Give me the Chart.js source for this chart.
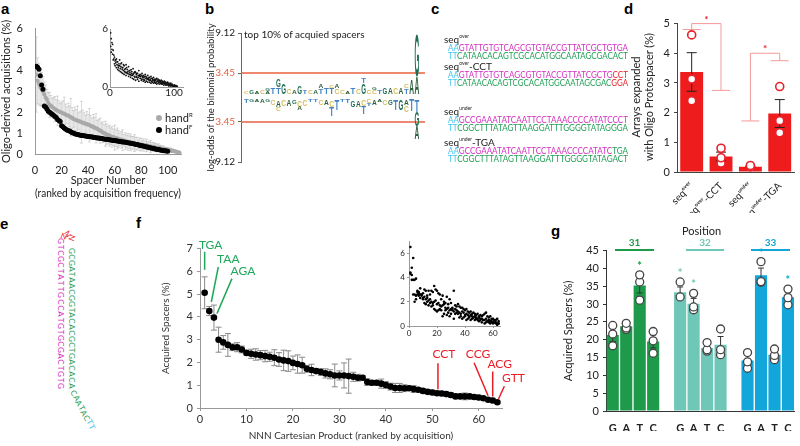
<!DOCTYPE html>
<html>
<head>
<meta charset="utf-8">
<script src="https://cdn.jsdelivr.net/npm/chart.js@4.4.1/dist/chart.umd.min.js"></script>
<style>
  body { margin: 0; width: 800px; height: 446px; background: #fff; position: relative; overflow: hidden; font-family: Lato, sans-serif; color: #222; }
  .box { position: absolute; }
  .panel { position: absolute; font: bold 15px "Liberation Sans", Arial, sans-serif; color: #000; }
  .t { position: absolute; white-space: nowrap; }
  .seq { position: absolute; white-space: nowrap; font: 8.5px Lato, sans-serif; line-height: 8px; transform-origin: 0 50%; }
  .name { position: absolute; white-space: nowrap; font: 10px Lato, sans-serif; }
  .name sup { font-size: 5px; vertical-align: 5px; }
  .cy { color: #41c4ee; } .mg { color: #d42fc0; } .gr { color: #1f9e55; } .rd { color: #ec1c24; }
  .vl { position: absolute; font: 8px Lato, sans-serif; width: 8px; height: 8px; text-align: center; line-height: 8px; }
  .rot { position: absolute; white-space: nowrap; transform: translate(-50%, -50%) rotate(-90deg); font-size: 11px; }
</style>
</head>
<body>

<div class="panel" style="left:1px;top:0px">a</div>
<div class="panel" style="left:205px;top:0px">b</div>
<div class="panel" style="left:431px;top:0px">c</div>
<div class="panel" style="left:624px;top:0px">d</div>
<div class="panel" style="left:0px;top:215px">e</div>
<div class="panel" style="left:136px;top:214px">f</div>
<div class="panel" style="left:551px;top:222px">g</div>

<div class="box" style="left:0;top:18px"><canvas id="chartA" width="190" height="182"></canvas></div>
<div class="box" style="left:98px;top:20px"><canvas id="chartAInset" width="90" height="84"></canvas></div>
<div class="t" style="left:156px;top:111px;font-size:11px;color:#999"><span style="display:inline-block;width:6px;height:6px;border-radius:3px;background:#aaa;margin-right:3px;vertical-align:1px"></span><span style="color:#222">hand<sup style="font-size:6px">R</sup></span></div>
<div class="t" style="left:156px;top:123px;font-size:11px"><span style="display:inline-block;width:6px;height:6px;border-radius:3px;background:#000;margin-right:3px;vertical-align:1px"></span>hand<sup style="font-size:6px">F</sup></div>

<div class="box" style="left:205px;top:23px"><canvas id="chartB" width="225" height="150"></canvas></div>
<div class="t" style="left:244px;top:28px;font-size:10px">top 10% of acquied spacers</div>

<div id="panelC"></div>

<div class="box" style="left:618px;top:13px"><canvas id="chartD" width="182" height="200"></canvas></div>
<div class="rot" style="left:635px;top:97px">Arrays expanded</div>
<div class="rot" style="left:648px;top:97px">with Oligo Protospacer (%)</div>

<div id="panelE"></div>

<div class="box" style="left:140px;top:238px"><canvas id="chartF" width="385" height="208"></canvas></div>
<div class="box" style="left:394px;top:234px"><canvas id="chartFInset" width="110" height="106"></canvas></div>

<div class="t" style="left:682px;top:224px;font-size:11px">Position</div>
<div id="posHead"></div>
<div class="box" style="left:562px;top:240px"><canvas id="chartG" width="238" height="191"></canvas></div>

<script>
// ---------- panel a ----------
const handR = [3.8, 3.5, 3.35, 3.2, 3.1, 3.0, 2.85, 2.7, 2.6, 2.45,
  2.35, 2.3, 2.25, 2.2, 2.15, 2.1, 2.07, 2.04, 2.01, 1.98,
  1.95, 1.92, 1.89, 1.86, 1.83, 1.8, 1.76, 1.72, 1.68, 1.65,
  1.62, 1.6, 1.57, 1.55, 1.52, 1.5, 1.47, 1.45, 1.43, 1.41,
  1.38, 1.35, 1.32, 1.29, 1.26, 1.23, 1.2, 1.16, 1.12, 1.08,
  1.04, 1.0, 0.97, 0.94, 0.91, 0.88, 0.85, 0.82, 0.8, 0.78,
  0.76, 0.74, 0.72, 0.7, 0.68, 0.66, 0.64, 0.62, 0.6, 0.58,
  0.57, 0.56, 0.54, 0.53, 0.52, 0.5, 0.49, 0.47, 0.46, 0.45,
  0.44, 0.43, 0.42, 0.41, 0.39, 0.38, 0.36, 0.35, 0.34, 0.32,
  0.31, 0.3, 0.29, 0.27, 0.26, 0.25, 0.24, 0.22, 0.21, 0.2,
  0.19, 0.18, 0.16, 0.15, 0.13, 0.12, 0.1, 0.08, 0.06, 0.04];
const handRErr = [1.8, 1.1, 1.0, 0.9, 0.8, 0.7, 0.6, 0.6, 0.5, 0.5,
  0.6, 0.5, 0.4, 0.5, 0.6, 0.5, 0.7, 0.5, 0.4, 0.5,
  0.6, 0.8, 0.5, 0.4, 0.6, 0.5, 0.9, 0.5, 0.4, 0.6,
  0.5, 0.7, 0.4, 0.5, 1.0, 0.6, 0.5, 0.4, 0.6, 0.5,
  0.8, 0.5, 0.4, 0.6, 0.5, 0.7, 0.4, 0.5, 0.6, 0.4,
  0.5, 0.4, 0.6, 0.5, 0.4, 0.5, 0.4, 0.5, 0.4, 0.6,
  0.4, 0.5, 0.4, 0.3, 0.4, 0.5, 0.3, 0.4, 0.3, 0.4,
  0.3, 0.4, 0.3, 0.3, 0.4, 0.3, 0.3, 0.2, 0.3, 0.3,
  0.2, 0.3, 0.2, 0.3, 0.2, 0.2, 0.3, 0.2, 0.2, 0.2,
  0.2, 0.15, 0.2, 0.15, 0.15, 0.1, 0.15, 0.1, 0.1, 0.1,
  0.1, 0.1, 0.08, 0.08, 0.06, 0.06, 0.05, 0.05, 0.04, 0.04];
const handF = [4.2, 4.15, 4.05, 3.75, 3.3, 3.1, 2.3, 2.25, 2.15, 2.05,
  2.0, 1.95, 1.9, 1.85, 1.8, 1.75, 1.65, 1.6, 1.55, 1.35,
  1.3, 1.25, 1.2, 1.15, 1.12, 1.1, 1.06, 1.02, 1.0, 0.97,
  0.95, 0.93, 0.92, 0.9, 0.89, 0.88, 0.87, 0.86, 0.85, 0.84,
  0.83, 0.82, 0.81, 0.8, 0.79, 0.78, 0.77, 0.76, 0.75, 0.74,
  0.73, 0.72, 0.71, 0.7, 0.69, 0.68, 0.67, 0.66, 0.65, 0.64,
  0.63, 0.62, 0.61, 0.6, 0.59, 0.58, 0.57, 0.56, 0.55, 0.54,
  0.53, 0.52, 0.5, 0.49, 0.48, 0.46, 0.45, 0.43, 0.42, 0.4,
  0.39, 0.37, 0.36, 0.34, 0.33, 0.31, 0.3, 0.28, 0.27, 0.25,
  0.24, 0.22, 0.21, 0.2, 0.18, 0.17, 0.16, 0.15, 0.14, 0.13];
const aTicksX = [0, 20, 40, 60, 80, 100];
// inset a: individual replicate values
const aRepA = [5.6, 5.0, 4.6, 3.4, 3.8, 2.9, 3.1, 2.7, 2.5, 2.9,
  2.3, 2.6, 2.2, 2.4, 2.8, 1.9, 2.1, 2.5, 1.8, 2.0,
  1.7, 2.2, 1.6, 1.9, 2.3, 1.5, 1.8, 1.4, 2.1, 1.7,
  1.5, 1.3, 1.8, 1.6, 1.2, 1.9, 1.4, 1.1, 1.6, 1.5,
  1.3, 1.0, 1.4, 1.2, 1.7, 1.1, 1.3, 0.9, 1.2, 1.4,
  1.0, 1.2, 0.8, 1.1, 1.3, 0.9, 1.0, 0.8, 1.2, 0.9,
  0.7, 1.0, 0.8, 1.1, 0.6, 0.9, 0.7, 1.0, 0.6, 0.8,
  0.7, 0.5, 0.9, 0.6, 0.8, 0.5, 0.7, 0.6, 0.4, 0.7,
  0.5, 0.6, 0.4, 0.5, 0.6, 0.3, 0.5, 0.4, 0.3, 0.5,
  0.3, 0.4, 0.2, 0.3, 0.4, 0.2, 0.3, 0.2, 0.1, 0.2,
  0.2, 0.1, 0.15, 0.1, 0.05];
const aRepB = [4.2, 3.6, 3.9, 4.4, 2.8, 3.3, 2.4, 2.2, 2.8, 2.0,
  2.6, 1.8, 2.0, 1.7, 2.2, 1.6, 2.4, 1.5, 2.0, 1.4,
  2.3, 1.3, 1.8, 1.5, 1.2, 2.0, 1.4, 1.6, 1.1, 1.3,
  1.7, 1.0, 1.2, 1.4, 0.9, 1.3, 0.8, 1.5, 1.0, 0.7,
  1.1, 1.4, 0.8, 1.0, 0.6, 1.2, 0.9, 1.1, 0.7, 0.8,
  1.1, 0.6, 1.0, 0.7, 0.5, 1.1, 0.6, 0.9, 0.5, 0.8,
  1.0, 0.5, 0.7, 0.4, 0.9, 0.5, 0.8, 0.4, 0.7, 0.5,
  0.4, 0.8, 0.3, 0.6, 0.4, 0.7, 0.3, 0.5, 0.6, 0.3,
  0.4, 0.3, 0.5, 0.2, 0.4, 0.3, 0.2, 0.4, 0.2, 0.3,
  0.2, 0.1, 0.3, 0.2, 0.1, 0.2, 0.1, 0.15, 0.1, 0.05,
  0.1, 0.05, 0.1, 0.05, 0.02];
const aInsetTicksX = [0, 100];
const aInsetTicksY = [0, 6];

// ---------- panel b (sequence logo) ----------
const bTicks = [9.12, 3.45, -3.45, -9.12];
const bThreshold = 3.45;
// columns, letters listed from baseline outward, [letter, height]
const logoTop = [
  [['C', 0.4]], [['G', 0.5]], [['A', 0.4]], [['C', 0.5]], [['A', 0.4], ['G', 0.3]],
  [['T', 0.9]], [['T', 1.0], ['G', 1.2]], [['G', 1.4]], [['C', 0.8]], [['A', 0.6]],
  [['G', 1.2]], [['T', 0.6]], [['C', 0.5]], [['A', 0.5]], [['T', 0.8], ['A', 0.5]],
  [['T', 0.9]], [['T', 0.9], ['C', 0.4]], [['C', 0.8], ['A', 0.6]], [['C', 0.5]], [['A', 0.4]],
  [['T', 1.0]], [['C', 0.8]], [['G', 1.5], ['T', 0.8]], [['C', 0.5]], [['C', 0.5], ['G', 0.4]],
  [['T', 0.5]], [['G', 0.9]], [['A', 0.9]], [['C', 0.9]], [['A', 1.0]],
  [['T', 0.8], ['C', 0.6]], [['A', 2.0]], [['A', 2.5], ['G', 6.0]]
];
const logoBottom = [
  [['T', 0.5]], [['G', 0.3]], [['A', 0.3]], [['A', 0.5]], [['G', 0.3]],
  [['C', 0.8]], [['A', 1.0], ['C', 0.6]], [['C', 0.9]], [['A', 0.9]], [['G', 0.6]],
  [['C', 1.0], ['A', 0.5]], [['C', 0.9]], [['T', 0.3]], [['T', 0.3]], [['C', 0.8]],
  [['A', 0.8]], [['C', 1.0], ['T', 1.3]], [['T', 1.5]], [['T', 0.3]], [['T', 0.5]],
  [['G', 1.0]], [['A', 1.0]], [['C', 0.9], ['T', 1.2]], [['C', 0.5], ['T', 0.4]], [['A', 0.8]],
  [['A', 0.4]], [['C', 0.8]], [['G', 0.8]], [['T', 1.4]], [['G', 1.4]],
  [['A', 0.8], ['C', 1.0]], [['T', 1.6]], [['T', 1.7], ['G', 2.1], ['A', 1.8]]
];
const logoColors = { A: '#2c5f3c', C: '#d6bd5c', G: '#1f6e52', T: '#4383c4' };

// ---------- panel d ----------
const dLabels = ['seqᵒᵛᵉʳ', 'seqᵒᵛᵉʳ-CCT', 'seqᵘⁿᵈᵉʳ', 'seqᵘⁿᵈᵉʳ-TGA'];
const dMeans = [3.37, 0.52, 0.18, 1.97];
const dErr = [0.65, 0.15, 0.02, 0.47];
const dRep1 = [4.62, 0.80, 0.22, 2.88];
const dRep2 = [3.13, 0.48, 0.18, 1.73];
const dRep3 = [2.40, 0.30, null, 1.32];
// significance brackets: [left bar, right bar, top, left end, right end]
const dBrackets = [[0, 1, 5.0, 4.8, 2.75], [2, 3, 4.0, 1.72, 3.75]];

// ---------- panel f ----------
const fMean = [5.06, 4.26, 3.97, 3.0, 2.88, 2.77, 2.67, 2.67, 2.57, 2.42,
  2.38, 2.35, 2.32, 2.28, 2.25, 2.21, 2.13, 2.09, 2.06, 1.98,
  1.93, 1.88, 1.72, 1.67, 1.62, 1.58, 1.52, 1.48, 1.43, 1.43,
  1.43, 1.40, 1.37, 1.33, 1.33, 1.14, 1.11, 1.11, 1.07, 1.01,
  0.94, 0.88, 0.88, 0.87, 0.87, 0.83, 0.80, 0.75, 0.71, 0.68,
  0.65, 0.64, 0.61, 0.57, 0.51, 0.51, 0.51, 0.51, 0.48, 0.46,
  0.43, 0.36, 0.33, 0.25];
const fErr = [0.7, 0.2, 0.55, 0.55, 0.3, 0.5, 0.15, 0.2, 0.15, 0.1,
  0.2, 0.25, 0.2, 0.25, 0.2, 0.35, 0.3, 0.45, 0.45, 0.3,
  0.4, 0.35, 0.15, 0.25, 0.1, 0.15, 0.2, 0.2, 0.5, 0.2,
  0.55, 0.75, 0.2, 0.15, 0.1, 0.15, 0.1, 0.1, 0.2, 0.15,
  0.15, 0.2, 0.2, 0.15, 0.1, 0.15, 0.1, 0.1, 0.1, 0.1,
  0.1, 0.1, 0.1, 0.1, 0.1, 0.1, 0.15, 0.1, 0.1, 0.1,
  0.05, 0.05, 0.1, 0.05];
const fRep1 = [6.5, 4.8, 5.6, 3.8, 3.9, 2.9, 2.8, 3.1, 2.6, 2.7, 3.0, 2.9, 2.5, 2.9, 2.6, 2.9, 2.8, 3.3, 3.0, 2.9, 2.7, 2.6, 2.2, 2.5, 2.0, 1.9, 2.4, 1.8, 2.2, 1.9, 1.5, 2.9, 1.7, 1.6, 1.8, 1.6, 1.5, 1.5, 1.4, 1.3, 1.4, 1.2, 1.1, 1.2, 1.0, 1.1, 1.0, 0.9, 1.0, 0.8, 0.9, 0.8, 0.9, 1.0, 1.1, 0.8, 0.7, 0.8, 0.6, 0.6, 0.5, 0.5, 0.6, 0.4];
const fRep2 = [4.4, 4.2, 3.8, 2.6, 2.5, 2.8, 2.7, 2.6, 2.5, 2.3, 2.4, 2.2, 2.3, 2.1, 2.2, 2.0, 1.9, 2.0, 2.1, 1.8, 1.9, 1.7, 1.6, 1.7, 1.8, 1.5, 1.4, 1.5, 1.3, 1.4, 1.3, 1.2, 1.4, 1.3, 1.2, 1.1, 1.0, 1.2, 1.1, 0.9, 1.0, 0.9, 0.8, 0.9, 0.8, 0.7, 0.8, 0.7, 0.6, 0.7, 0.6, 0.6, 0.5, 0.5, 0.6, 0.4, 0.5, 0.4, 0.5, 0.3, 0.4, 0.3, 0.2, 0.2];
const fRep3 = [4.3, 3.8, 2.6, 2.0, 2.2, 2.6, 2.5, 2.3, 2.6, 2.2, 1.9, 1.8, 2.0, 1.7, 1.9, 1.6, 1.7, 1.4, 1.3, 1.2, 1.3, 1.4, 1.3, 0.8, 1.0, 1.3, 0.9, 1.1, 0.8, 1.0, 1.4, 0.6, 1.0, 1.1, 1.0, 0.7, 0.8, 0.6, 0.7, 0.8, 0.5, 0.6, 0.7, 0.5, 0.6, 0.7, 0.5, 0.6, 0.5, 0.4, 0.5, 0.3, 0.5, 0.2, 0.3, 0.4, 0.3, 0.2, 0.3, 0.2, 0.3, 0.2, 0.1, 0.2];
const fTicksX = [0, 10, 20, 30, 40, 50, 60];
const fInsetTicksX = [0, 20, 40, 60];
const fGood = ['TGA', 'TAA', 'AGA'];
const fBad = ['CCT', 'CCG', 'ACG', 'GTT'];
const fGoodRank = [1, 2, 3];
const fBadRank = [51, 62, 63, 64];

// ---------- panel g ----------
const bases = ['G', 'A', 'T', 'C'];
const positions = ['31', '32', '33'];
const gMean = [[21.3, 23.8, 35.2, 19.5], [33.3, 30.1, 17.7, 18.6], [14.2, 38.1, 15.8, 31.9]];
const gErr = [[1.8, 0.7, 2.1, 1.8], [1.5, 1.5, 0.5, 2.3], [1.5, 2.0, 1.0, 0.8]];
const gRep1 = [[24.0, 24.6, 38.2, 22.3], [36.2, 33.0, 19.2, 23.0], [16.4, 41.9, 17.4, 34.2]];
const gRep2 = [[21.6, 23.3, 36.2, 19.7], [32.0, 29.2, 17.2, 17.2], [13.8, 36.3, 15.6, 31.8]];
const gRep3 = [[18.3, 22.9, 31.1, 16.2], [null, 28.4, 16.8, 15.8], [12.0, 36.1, 14.4, 29.8]];
const gSig = [[0, 0, 1, 0], [1, 1, 0, 0], [0, 1, 0, 1]];
const posColors = ['#1d9a4a', '#6ec7b7', '#12a6da'];

// ---------- shared helpers ----------
Chart.defaults.font.family = 'Lato, sans-serif';
Chart.defaults.color = '#222';
Chart.defaults.animation = false;
Chart.defaults.plugins.legend.display = false;
Chart.defaults.plugins.tooltip.enabled = false;

function fixW(w) { return s => { s.width = w; }; }
function fixH(h) { return s => { s.height = h; }; }
function setTicks(list) { return s => { s.ticks = list.map(v => ({ value: v })); }; }

function drawErrors(chart, index, meta, phase) {
  const ds = chart.data.datasets[index];
  if (!ds.errors || (ds.errorPhase || 'before') !== phase) return;
  const ys = chart.scales[meta.yAxisID];
  const ctx = chart.ctx;
  ctx.save();
  ctx.strokeStyle = ds.errorColor || '#000';
  ctx.lineWidth = ds.errorWidth || 1;
  meta.data.forEach((el, i) => {
    const d = ds.data[i];
    const v = d && typeof d === 'object' ? d.y : d;
    const e = ds.errors[i];
    if (v == null || e == null) return;
    const cap = ds.errorCap || 2;
    const top = ys.getPixelForValue(v + e);
    const lowV = Math.max(v - e, ys.min);
    const bot = ys.getPixelForValue(lowV);
    ctx.beginPath();
    ctx.moveTo(el.x, top); ctx.lineTo(el.x, bot);
    ctx.moveTo(el.x - cap, top); ctx.lineTo(el.x + cap, top);
    if (lowV > ys.min) { ctx.moveTo(el.x - cap, bot); ctx.lineTo(el.x + cap, bot); }
    ctx.stroke();
  });
  ctx.restore();
}
const errorBars = {
  id: 'errorBars',
  beforeDatasetDraw(chart, args) { drawErrors(chart, args.index, args.meta, 'before'); },
  afterDatasetDraw(chart, args) { drawErrors(chart, args.index, args.meta, 'after'); }
};
const xy = arr => arr.map((v, i) => ({ x: i + 1, y: v }));

// ---------- chart a ----------
new Chart(document.getElementById('chartA'), {
  type: 'scatter',
  data: {
    datasets: [
      { data: xy(handF), pointRadius: 2.5, backgroundColor: '#000', borderWidth: 0, order: 1 },
      { data: xy(handR), pointRadius: 2.1, backgroundColor: '#a9a9a9', borderWidth: 0, order: 2,
        errors: handRErr, errorColor: 'rgba(170,170,170,0.55)', errorWidth: 0.8, errorCap: 1.5, errorPhase: 'before' }
    ]
  },
  options: {
    responsive: false,
    layout: { padding: { top: 10, right: 9 } },
    scales: {
      x: { min: 0, max: 110, afterFit: fixH(46), afterBuildTicks: setTicks(aTicksX),
        ticks: { font: { size: 11 }, padding: 2, maxRotation: 0, autoSkip: false },
        grid: { display: false }, border: { color: '#999' },
        title: { display: true, text: ['Spacer Number', '(ranked by acquisition frequency)'], font: { size: 11 }, padding: 0 } },
      y: { min: 0, max: 6, afterFit: fixW(35),
        ticks: { stepSize: 1, font: { size: 11 }, padding: 4 },
        grid: { display: false }, border: { color: '#999' },
        title: { display: true, text: 'Oligo-derived acquisitions (%)', font: { size: 11 }, padding: 0 } }
    }
  },
  plugins: [errorBars]
});

new Chart(document.getElementById('chartAInset'), {
  type: 'scatter',
  data: {
    datasets: [
      { data: xy(aRepA), pointRadius: 0.9, backgroundColor: '#111', borderWidth: 0 },
      { data: xy(aRepB), pointRadius: 0.9, backgroundColor: '#111', borderWidth: 0 }
    ]
  },
  options: {
    responsive: false,
    layout: { padding: { top: 9, right: 5 } },
    scales: {
      x: { min: 0, max: 114, afterFit: fixH(17), afterBuildTicks: setTicks(aInsetTicksX),
        ticks: { font: { size: 10 }, padding: 0, maxRotation: 0, autoSkip: false },
        grid: { display: false, drawTicks: false }, border: { color: '#999' } },
      y: { min: 0, max: 6, afterFit: fixW(12), afterBuildTicks: setTicks(aInsetTicksY),
        ticks: { font: { size: 10 }, padding: 2, autoSkip: false },
        grid: { display: false, drawTicks: false }, border: { color: '#999' } }
    }
  }
});

// ---------- chart b ----------
const logoPlugin = {
  id: 'logo',
  afterDatasetsDraw(chart) {
    const ctx = chart.ctx, xs = chart.scales.x, ys = chart.scales.y;
    const colW = xs.getPixelForValue(1) - xs.getPixelForValue(0);
    ctx.save();
    ctx.font = 'bold 20px "Liberation Sans", Arial, sans-serif';
    ctx.textBaseline = 'alphabetic';
    const capH = 14.4;
    const drawLetter = (ch, cx, yTop, yBot) => {
      const w = ctx.measureText(ch).width;
      ctx.save();
      ctx.translate(cx, yBot);
      ctx.scale(colW * 0.9 / w, (yBot - yTop) / capH);
      ctx.fillStyle = logoColors[ch];
      ctx.fillText(ch, -w / 2, 0);
      ctx.restore();
    };
    logoTop.forEach((col, i) => {
      let base = 0.5;
      const cx = xs.getPixelForValue(i + 1);
      col.forEach(([ch, h]) => {
        drawLetter(ch, cx, ys.getPixelForValue(base + h), ys.getPixelForValue(base));
        base += h;
      });
    });
    logoBottom.forEach((col, i) => {
      let base = -0.3;
      const cx = xs.getPixelForValue(i + 1);
      col.forEach(([ch, h]) => {
        drawLetter(ch, cx, ys.getPixelForValue(base), ys.getPixelForValue(base - h));
        base -= h;
      });
    });
    ctx.restore();
  }
};
new Chart(document.getElementById('chartB'), {
  type: 'scatter',
  data: {
    datasets: [
      { data: [{ x: 0, y: bThreshold }, { x: 34.5, y: bThreshold }], showLine: true, borderColor: '#e8603f', borderWidth: 1.5, pointRadius: 0 },
      { data: [{ x: 0, y: -bThreshold }, { x: 34.5, y: -bThreshold }], showLine: true, borderColor: '#e8603f', borderWidth: 1.5, pointRadius: 0 }
    ]
  },
  options: {
    responsive: false,
    layout: { padding: { top: 10, right: 5, bottom: 11 } },
    scales: {
      x: { display: false, min: 0, max: 34.5 },
      y: { min: -9.12, max: 9.12, afterFit: fixW(36), afterBuildTicks: setTicks(bTicks),
        ticks: { font: { size: 10 }, padding: 3, autoSkip: false,
          callback: v => Math.abs(v).toFixed(2),
          color: c => Math.abs(c.tick.value) === bThreshold ? '#e8603f' : '#222' },
        grid: { drawOnChartArea: false, tickLength: 3, color: '#666' }, border: { color: '#666' },
        title: { display: true, text: 'log-odds of the binomial probability', font: { size: 9.5 }, padding: 0 } }
    }
  },
  plugins: [logoPlugin]
});

// ---------- panel c (sequences) ----------
const seqBlocks = [
  { name: 'seq', sup: 'over', suffix: '', top: 35,
    l1: [['cy', 'AA'], ['mg', 'GTATTGTGTCAGCGTGTACCGTTATCGCTGTGA']],
    l2: [['cy', 'TT'], ['gr', 'CATAACACAGTCGCACATGGCAATAGCGACACT']] },
  { name: 'seq', sup: 'over', suffix: '-CCT', top: 62,
    l1: [['cy', 'AA'], ['mg', 'GTATTGTGTCAGCGTGTACCGTTATCGCTG'], ['rd', 'CCT']],
    l2: [['cy', 'TT'], ['gr', 'CATAACACAGTCGCACATGGCAATAGCGAC'], ['rd', 'GGA']] },
  { name: 'seq', sup: 'under', suffix: '', top: 107,
    l1: [['cy', 'AA'], ['mg', 'GCCGAAATATCAATTCCTAAACCCCATATCCCT']],
    l2: [['cy', 'TT'], ['gr', 'CGGCTTTATAGTTAAGGATTTGGGGTATAGGGA']] },
  { name: 'seq', sup: 'under', suffix: '-TGA', top: 138,
    l1: [['cy', 'AA'], ['mg', 'GCCGAAATATCAATTCCTAAACCCCATATC'], ['gr', 'TGA']],
    l2: [['cy', 'TT'], ['gr', 'CGGCTTTATAGTTAAGGATTTGGGGTATAGACT']] }
];
const panelC = document.getElementById('panelC');
seqBlocks.forEach(b => {
  const span = parts => parts.map(([c, s]) => `<span class="${c}">${s}</span>`).join('');
  panelC.insertAdjacentHTML('beforeend',
    `<div class="name" style="left:444px;top:${b.top - 2}px">${b.name}<sup>${b.sup}</sup>${b.suffix}</div>` +
    `<div class="seq" style="left:448px;top:${b.top + 9}px">${span(b.l1)}</div>` +
    `<div class="seq" style="left:448px;top:${b.top + 17}px">${span(b.l2)}</div>`);
});
// stretch each sequence line to the 180px width it has in the figure
panelC.querySelectorAll('.seq').forEach(el => {
  el.style.transform = `scaleX(${180 / el.getBoundingClientRect().width})`;
});

// ---------- panel e (hairpin) ----------
const hairpinLeft = 'GTCGCTATTGCCATGTGCGACTGTG';
const hairpinRight = 'GCGATAACGGTACACGCTGACACA';
const hairpinTail = 'CAATAC';
const hairpinEnd = 'TT';
const panelE = document.getElementById('panelE');
const putV = (ch, x, y, cls, rot) => panelE.insertAdjacentHTML('beforeend',
  `<div class="vl ${cls}" style="left:${x - 4}px;top:${y - 4}px;transform:rotate(${rot}deg)">${ch}</div>`);
[...hairpinLeft].forEach((ch, i) => putV(ch, 61, 241 + i * 6.05, 'mg', 90));
[...hairpinRight].forEach((ch, i) => putV(ch, 72, 251 + i * 5.85, 'gr', 90));
[...hairpinTail + hairpinEnd].forEach((ch, i) => putV(ch, 74 + i * 2.6, 393 + i * 4.9, i < hairpinTail.length ? 'gr' : 'cy', 62));
putV('N', 64, 236, 'rd', 20);
putV('N', 68, 234, 'rd', 60);
putV('N', 72, 238, 'rd', 110);

// ---------- chart d ----------
const bracketPlugin = {
  id: 'brackets',
  afterDatasetsDraw(chart) {
    const ctx = chart.ctx, xs = chart.scales.x, ys = chart.scales.y;
    ctx.save();
    ctx.strokeStyle = '#f39a9a';
    ctx.fillStyle = '#e8202a';
    ctx.lineWidth = 1;
    dBrackets.forEach(([a, b, top, endA, endB]) => {
      const xa = xs.getPixelForValue(a), xb = xs.getPixelForValue(b);
      const yt = ys.getPixelForValue(top);
      ctx.beginPath();
      ctx.moveTo(xa, ys.getPixelForValue(endA)); ctx.lineTo(xa, yt); ctx.lineTo(xb, yt); ctx.lineTo(xb, ys.getPixelForValue(endB));
      [[xa, endA], [xb, endB]].forEach(([x, v]) => {
        ctx.moveTo(x - 9, ys.getPixelForValue(v)); ctx.lineTo(x + 9, ys.getPixelForValue(v));
      });
      ctx.stroke();
      ctx.font = 'bold 10px Lato, sans-serif';
      ctx.textAlign = 'center';
      ctx.fillText('*', (xa + xb) / 2, yt - 1);
    });
    ctx.restore();
  }
};
const dCircle = arr => ({ type: 'line', data: arr, showLine: false, pointRadius: 4, pointBorderWidth: 1.6,
  pointBorderColor: '#e8202a', pointBackgroundColor: '#fff', order: 1 });
new Chart(document.getElementById('chartD'), {
  type: 'bar',
  data: {
    labels: dLabels,
    datasets: [
      { data: dMeans, backgroundColor: '#ee1c1c', barPercentage: 0.78, categoryPercentage: 1, order: 3,
        errors: dErr, errorColor: '#222', errorCap: 5, errorPhase: 'after' },
      dCircle(dRep1), dCircle(dRep2), dCircle(dRep3)
    ]
  },
  options: {
    responsive: false,
    layout: { padding: { top: 10, right: 5 } },
    scales: {
      x: { afterFit: fixH(41), grid: { display: false }, border: { color: '#444' },
        ticks: { minRotation: 45, maxRotation: 45, font: { size: 10 }, padding: 0 } },
      y: { min: 0, max: 5, afterFit: fixW(59),
        ticks: { stepSize: 1, font: { size: 11 }, padding: 4, color: '#222' },
        grid: { drawOnChartArea: false, tickLength: 3, color: '#444' }, border: { color: '#444' } }
    }
  },
  plugins: [errorBars, bracketPlugin]
});

// ---------- chart f ----------
const calloutStyle = [
  { dx: 6, dy: -48, x1: 0, y1: -41, x2: 0, y2: -23 },
  { dx: 19, dy: -52, x1: 9, y1: -44, x2: 2, y2: -9 },
  { dx: 29, dy: -46, x1: 18, y1: -39, x2: 3, y2: -4 },
  { dx: 7, dy: -39, x1: 1, y1: -30, x2: 1, y2: -4 },
  { dx: -10, dy: -46, x1: -14, y1: -37, x2: 0, y2: -4 },
  { dx: 7, dy: -36, x1: 0, y1: -29, x2: 0, y2: -4 },
  { dx: 16, dy: -24, x1: 7, y1: -16, x2: 1, y2: -3 }
];
const calloutPlugin = {
  id: 'callouts',
  afterDatasetsDraw(chart) {
    const ctx = chart.ctx, xs = chart.scales.x, ys = chart.scales.y;
    const items = fGood.map((t, i) => [t, fGoodRank[i], '#1fa85a'])
      .concat(fBad.map((t, i) => [t, fBadRank[i], '#ec1c24']));
    ctx.save();
    ctx.font = '12px Lato, sans-serif';
    ctx.textAlign = 'center';
    ctx.textBaseline = 'middle';
    ctx.lineWidth = 1.5;
    items.forEach(([text, rank, color], i) => {
      const s = calloutStyle[i];
      const px = xs.getPixelForValue(rank), py = ys.getPixelForValue(fMean[rank - 1]);
      ctx.fillStyle = color; ctx.strokeStyle = color;
      ctx.fillText(text, px + s.dx, py + s.dy);
      ctx.beginPath(); ctx.moveTo(px + s.x1, py + s.y1); ctx.lineTo(px + s.x2, py + s.y2); ctx.stroke();
    });
    ctx.restore();
  }
};
new Chart(document.getElementById('chartF'), {
  type: 'scatter',
  data: {
    datasets: [
      { data: xy(fMean), pointRadius: 3.3, backgroundColor: '#000', borderWidth: 0,
        errors: fErr, errorColor: '#8a8a8a', errorCap: 3, errorPhase: 'before' }
    ]
  },
  options: {
    responsive: false,
    layout: { padding: { top: 10, right: 23 } },
    scales: {
      x: { min: 0, max: 65, afterFit: fixH(38), afterBuildTicks: setTicks(fTicksX),
        ticks: { font: { size: 11 }, padding: 2, maxRotation: 0, color: '#333', autoSkip: false },
        grid: { drawOnChartArea: false, tickLength: 3, color: '#999' }, border: { color: '#999' },
        title: { display: true, text: 'NNN Cartesian Product (ranked by acquisition)', font: { size: 10 }, padding: { top: 3 }, color: '#333' } },
      y: { min: 0, max: 7, afterFit: fixW(60),
        ticks: { stepSize: 1, font: { size: 11 }, padding: 4, color: '#333' },
        grid: { drawOnChartArea: false, tickLength: 3, color: '#999' }, border: { color: '#999' },
        title: { display: true, text: 'Acquired Spacers (%)', font: { size: 10 }, padding: { top: 20, bottom: 0 }, color: '#333' } }
    }
  },
  plugins: [errorBars, calloutPlugin]
});

new Chart(document.getElementById('chartFInset'), {
  type: 'scatter',
  data: {
    datasets: [fRep1, fRep2, fRep3].map(r => ({ data: xy(r), pointRadius: 1.3, backgroundColor: '#000', borderWidth: 0 }))
  },
  options: {
    responsive: false,
    layout: { padding: { top: 7, right: 4 } },
    scales: {
      x: { min: 0, max: 65, afterFit: fixH(14), afterBuildTicks: setTicks(fInsetTicksX),
        ticks: { font: { size: 8 }, padding: 1, maxRotation: 0, autoSkip: false },
        grid: { drawOnChartArea: false, tickLength: 2, color: '#999' }, border: { color: '#999' } },
      y: { min: 0, max: 7, afterFit: fixW(15),
        ticks: { stepSize: 1, font: { size: 8 }, padding: 2 },
        grid: { drawOnChartArea: false, tickLength: 2, color: '#999' }, border: { color: '#999' } }
    }
  }
});

// ---------- chart g ----------
const gLabels = [], gBarData = [], gBarErr = [], gBarColor = [], gR1 = [], gR2 = [], gR3 = [], gStar = [];
positions.forEach((p, pi) => {
  if (pi > 0) {
    gLabels.push(''); gBarData.push(null); gBarErr.push(null); gBarColor.push('#fff');
    gR1.push(null); gR2.push(null); gR3.push(null); gStar.push(null);
  }
  bases.forEach((b, bi) => {
    gLabels.push(b);
    gBarData.push(gMean[pi][bi]);
    gBarErr.push(gErr[pi][bi]);
    gBarColor.push(posColors[pi]);
    gR1.push(gRep1[pi][bi]); gR2.push(gRep2[pi][bi]); gR3.push(gRep3[pi][bi]);
    gStar.push(gSig[pi][bi] ? { color: posColors[pi], v: gRep1[pi][bi] } : null);
  });
});
const starPlugin = {
  id: 'stars',
  afterDatasetsDraw(chart) {
    const ctx = chart.ctx, xs = chart.scales.x, ys = chart.scales.y;
    ctx.save();
    ctx.font = 'bold 11px Lato, sans-serif';
    ctx.textAlign = 'center';
    gStar.forEach((s, i) => {
      if (!s) return;
      ctx.fillStyle = s.color;
      ctx.fillText('*', xs.getPixelForValue(i), ys.getPixelForValue(s.v) - 5);
    });
    ctx.restore();
  }
};
const gCircle = arr => ({ type: 'line', data: arr, showLine: false, pointRadius: 4, pointBorderWidth: 1.3,
  pointBorderColor: '#444', pointBackgroundColor: '#fff', order: 1 });
new Chart(document.getElementById('chartG'), {
  type: 'bar',
  data: {
    labels: gLabels,
    datasets: [
      { data: gBarData, backgroundColor: gBarColor, barPercentage: 0.9, categoryPercentage: 1, order: 3,
        errors: gBarErr, errorColor: '#333', errorCap: 3, errorPhase: 'after' },
      gCircle(gR1), gCircle(gR2), gCircle(gR3)
    ]
  },
  options: {
    responsive: false,
    layout: { padding: { top: 10, right: 5 } },
    scales: {
      x: { afterFit: fixH(20), grid: { display: false }, border: { color: '#333' },
        ticks: { font: { size: 11, weight: 'bold' }, padding: 3, maxRotation: 0, autoSkip: false } },
      y: { min: 0, max: 45, afterFit: fixW(44),
        ticks: { stepSize: 5, font: { size: 11 }, padding: 4 },
        grid: { drawOnChartArea: false, tickLength: 3, color: '#333' }, border: { color: '#333' },
        title: { display: true, text: 'Acquired Spacers (%)', font: { size: 11 }, padding: 0 } }
    }
  },
  plugins: [errorBars, starPlugin]
});

// position headers over the groups in g
const posHead = document.getElementById('posHead');
const headX = [[615, 654], [686, 724], [751, 790]];
positions.forEach((p, i) => {
  const [x0, x1] = headX[i];
  posHead.insertAdjacentHTML('beforeend',
    `<div class="t" style="left:${x0}px;width:${x1 - x0}px;top:236px;text-align:center;font:bold 10px Lato,sans-serif;color:${posColors[i]}">${p}</div>` +
    `<div class="t" style="left:${x0}px;width:${x1 - x0}px;top:249px;height:1.5px;background:${posColors[i]}"></div>`);
});
</script>
</body>
</html>
